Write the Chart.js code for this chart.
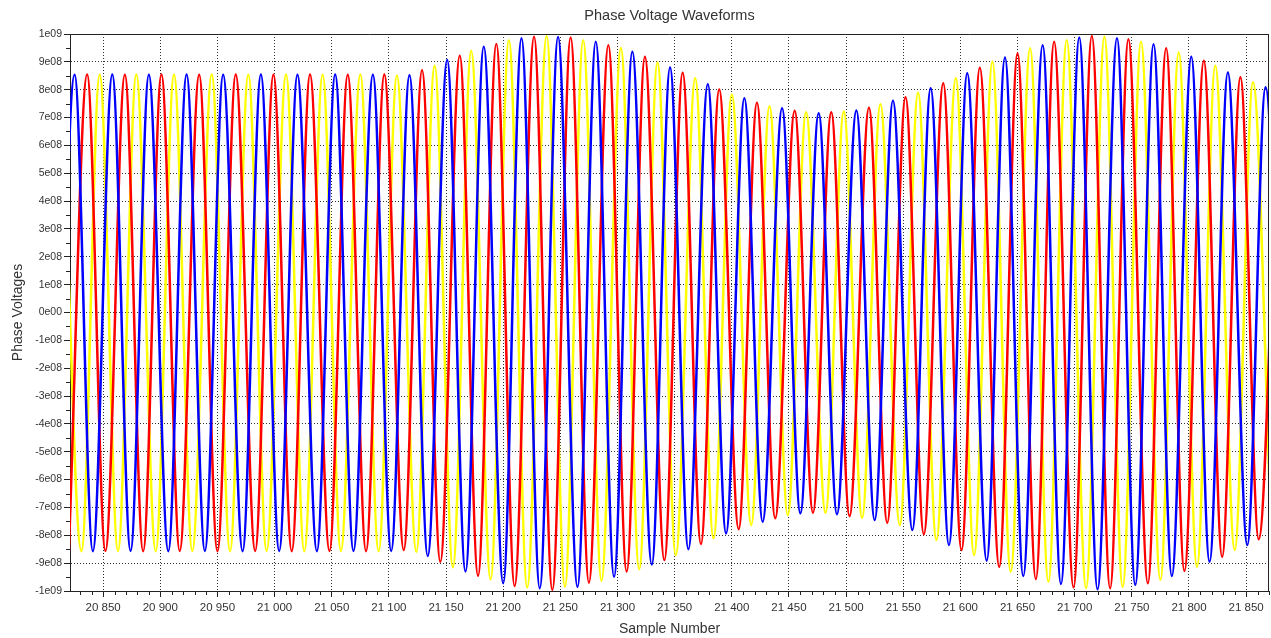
<!DOCTYPE html>
<html>
<head>
<meta charset="utf-8">
<title>Phase Voltage Waveforms</title>
<script src="https://cdn.jsdelivr.net/npm/chart.js@4.4.1/dist/chart.umd.min.js"></script>
<style>
  html, body { margin: 0; padding: 0; background: #fff; }
  #wrap { width: 1271px; height: 638px; position: relative; }
</style>
</head>
<body>
<div id="wrap"><canvas id="myChart"></canvas></div>
<script>
// x range of the plot (sample numbers)
const sampleMin = 20821
const sampleMax = 21870
const sampleTicks = [20850, 20900, 20950, 21000, 21050, 21100, 21150, 21200, 21250, 21300,
  21350, 21400, 21450, 21500, 21550, 21600, 21650, 21700, 21750, 21800, 21850]
// y ticks, in units of 1e8
const voltTicks = [-10, -9, -8, -7, -6, -5, -4, -3, -2, -1, 0, 1, 2, 3, 4, 5, 6, 7, 8, 9, 10]

// peaks and troughs (sample number, value in 1e8)
const blueSamples = [20809, 20825, 20841, 20858, 20874, 20890, 20907, 20923, 20939, 20955,
  20972, 20988, 21004, 21020, 21037, 21053, 21069, 21086, 21102, 21118,
  21134, 21151, 21167, 21183, 21200, 21216, 21232, 21248, 21265, 21281,
  21297, 21313, 21330, 21346, 21362, 21379, 21395, 21411, 21427, 21444,
  21460, 21476, 21492, 21509, 21525, 21541, 21558, 21574, 21590, 21606,
  21623, 21639, 21655, 21672, 21688, 21704, 21720, 21737, 21753, 21769,
  21785, 21802, 21818, 21834, 21851, 21867, 21883]
const blueValues = [-8.56, 8.54, -8.57, 8.55, -8.56, 8.54, -8.57, 8.55, -8.56, 8.54,
  -8.57, 8.55, -8.56, 8.54, -8.57, 8.55, -8.56, 8.54, -8.56, 8.52,
  -8.74, 9.07, -9.30, 9.54, -9.72, 9.85, -9.90, 9.89, -9.85, 9.72,
  -9.49, 9.36, -9.05, 8.80, -8.50, 8.20, -7.93, 7.69, -7.51, 7.33,
  -7.21, 7.15, -7.24, 7.25, -7.45, 7.60, -7.81, 8.05, -8.35, 8.59,
  -8.91, 9.16, -9.46, 9.60, -9.75, 9.87, -9.94, 9.85, -9.78, 9.63,
  -9.46, 9.18, -8.95, 8.62, -8.35, 8.09, -7.90]

const redSamples = [20820, 20836, 20852, 20869, 20885, 20901, 20917, 20934, 20950, 20966,
  20983, 20999, 21015, 21031, 21048, 21064, 21080, 21096, 21113, 21129,
  21145, 21162, 21178, 21194, 21210, 21227, 21243, 21259, 21275, 21292,
  21308, 21324, 21341, 21357, 21373, 21389, 21406, 21422, 21438, 21455,
  21471, 21487, 21503, 21520, 21536, 21552, 21568, 21585, 21601, 21617,
  21634, 21650, 21666, 21682, 21699, 21715, 21731, 21747, 21764, 21780,
  21796, 21813, 21829, 21845, 21861, 21878]
const redValues = [-8.57, 8.55, -8.56, 8.54, -8.57, 8.55, -8.56, 8.54, -8.57, 8.55,
  -8.56, 8.54, -8.57, 8.55, -8.56, 8.54, -8.57, 8.55, -8.53, 8.70,
  -8.95, 9.22, -9.45, 9.64, -9.82, 9.90, -9.96, 9.87, -9.70, 9.60,
  -9.30, 9.18, -8.89, 8.61, -8.31, 8.01, -7.78, 7.53, -7.39, 7.24,
  -7.19, 7.19, -7.31, 7.35, -7.55, 7.73, -7.96, 8.23, -8.53, 8.79,
  -9.13, 9.30, -9.57, 9.72, -9.87, 9.93, -9.90, 9.81, -9.72, 9.49,
  -9.28, 9.04, -8.77, 8.45, -8.14, 7.95]

const yellowSamples = [20814, 20831, 20847, 20863, 20879, 20896, 20912, 20928, 20945, 20961,
  20977, 20993, 21010, 21026, 21042, 21058, 21075, 21091, 21107, 21124,
  21140, 21156, 21172, 21189, 21205, 21221, 21238, 21254, 21270, 21286,
  21303, 21319, 21335, 21351, 21368, 21384, 21400, 21417, 21433, 21449,
  21465, 21482, 21498, 21514, 21530, 21547, 21563, 21579, 21596, 21612,
  21628, 21644, 21661, 21677, 21693, 21710, 21726, 21742, 21758, 21775,
  21791, 21807, 21823, 21840, 21856, 21872]
const yellowValues = [8.55, -8.57, 8.54, -8.56, 8.55, -8.57, 8.54, -8.56, 8.55, -8.57,
  8.54, -8.56, 8.55, -8.57, 8.54, -8.56, 8.55, -8.57, 8.50, -8.59,
  8.86, -9.15, 9.39, -9.58, 9.78, -9.87, 9.93, -9.84, 9.78, -9.63,
  9.50, -9.22, 8.98, -8.71, 8.41, -8.11, 7.83, -7.63, 7.41, -7.27,
  7.19, -7.19, 7.22, -7.37, 7.48, -7.63, 7.89, -8.17, 8.41, -8.71,
  9.00, -9.31, 9.49, -9.67, 9.78, -9.90, 9.90, -9.85, 9.72, -9.60,
  9.34, -9.13, 8.86, -8.53, 8.27, -8.00]

const E8 = 1e8

function toPoints(samples, values) {
  return samples.map((s, i) => ({x: s, y: values[i] * E8}))
}

function fmtVolt(v) {
  let m = Math.round(v / E8)
  if (m === 0) return "0e00"
  let sign = m < 0 ? "-" : ""
  m = Math.abs(m)
  if (m === 10) return sign + "1e09"
  return sign + m + "e08"
}

function fmtSample(v) {
  return String(v).replace(/\B(?=(\d{3})+(?!\d))/g, " ")
}

// frame on top/right + small minor ticks like the original plot
const frameAndMinor = {
  id: "frameAndMinor",
  afterDraw(chart) {
    const {ctx, chartArea: a, scales} = chart
    ctx.save()
    ctx.strokeStyle = "#222"
    ctx.lineWidth = 1
    ctx.beginPath()
    ctx.moveTo(a.left, a.top + 0.5)
    ctx.lineTo(a.right, a.top + 0.5)
    ctx.moveTo(a.right - 0.5, a.top)
    ctx.lineTo(a.right - 0.5, a.bottom)
    ctx.stroke()

    ctx.beginPath()
    let xs = scales.x
    for (let v = Math.ceil(sampleMin / 10) * 10; v <= sampleMax; v += 10) {
      if (v % 50 === 0) continue
      let px = Math.round(xs.getPixelForValue(v)) + 0.5
      ctx.moveTo(px, a.bottom)
      ctx.lineTo(px, a.bottom + 4)
    }
    let ys = scales.y
    for (let k = -19; k <= 19; k += 2) {
      let py = Math.round(ys.getPixelForValue(k * E8 / 2)) + 0.5
      ctx.moveTo(a.left, py)
      ctx.lineTo(a.left - 4, py)
    }
    ctx.stroke()
    ctx.restore()
  }
}

const gridStyle = {
  color: "#333",
  lineWidth: 1,
  tickLength: 6,
  tickColor: "#222"
}

var ctx = document.getElementById("myChart").getContext("2d")
var myChart = new Chart(ctx, {
  type: "line",
  data: {
    datasets: [
      {label: "Phase A", data: toPoints(blueSamples, blueValues), borderColor: "#0000ff"},
      {label: "Phase B", data: toPoints(redSamples, redValues), borderColor: "#ff0000"},
      {label: "Phase C", data: toPoints(yellowSamples, yellowValues), borderColor: "#ffff00"}
    ]
  },
  options: {
    responsive: true,
    maintainAspectRatio: false,
    animation: false,
    devicePixelRatio: 1,
    layout: {padding: {left: 0, right: 2, top: 0, bottom: 0}},
    elements: {
      line: {borderWidth: 2.5, cubicInterpolationMode: "monotone", fill: false},
      point: {radius: 0, hoverRadius: 0}
    },
    plugins: {
      legend: {display: false},
      tooltip: {enabled: false},
      title: {
        display: true,
        text: "Phase Voltage Waveforms",
        fullSize: false,
        color: "#333",
        font: {family: "'Liberation Sans', Arial, sans-serif", size: 14.5, weight: "normal", lineHeight: 1.2},
        padding: {top: 7, bottom: 9.6}
      }
    },
    scales: {
      x: {
        type: "linear",
        min: sampleMin,
        max: sampleMax,
        afterBuildTicks: scale => { scale.ticks = sampleTicks.map(v => ({value: v})) },
        afterFit: scale => { scale.height = 47 },
        ticks: {
          autoSkip: false,
          maxRotation: 0,
          padding: 4,
          color: "#333",
          font: {family: "'Liberation Sans', Arial, sans-serif", size: 11.5},
          callback: v => fmtSample(v)
        },
        grid: gridStyle,
        border: {display: true, color: "#222", width: 1, dash: [1, 2]},
        title: {
          display: true,
          text: "Sample Number",
          color: "#333",
          font: {family: "'Liberation Sans', Arial, sans-serif", size: 14, lineHeight: 1.2},
          padding: {top: 0, bottom: 0}
        }
      },
      y: {
        type: "linear",
        min: -10 * E8,
        max: 10 * E8,
        afterBuildTicks: scale => { scale.ticks = voltTicks.map(v => ({value: v * E8})) },
        afterFit: scale => { scale.width = 70 },
        ticks: {
          autoSkip: false,
          padding: 2,
          color: "#333",
          font: {family: "'Liberation Sans', Arial, sans-serif", size: 10.5},
          callback: v => fmtVolt(v)
        },
        grid: gridStyle,
        border: {display: true, color: "#222", width: 1, dash: [1, 2]},
        title: {
          display: true,
          text: "Phase Voltages",
          color: "#333",
          font: {family: "'Liberation Sans', Arial, sans-serif", size: 14, lineHeight: 1.2},
          padding: {top: 9.6, bottom: 0}
        }
      }
    }
  },
  plugins: [frameAndMinor]
})
</script>
</body>
</html>
